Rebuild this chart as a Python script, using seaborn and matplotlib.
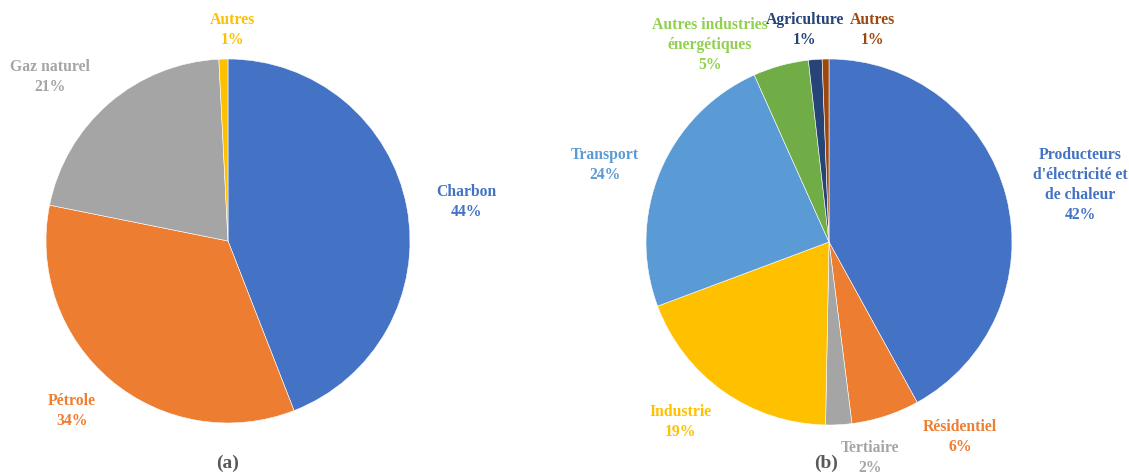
import matplotlib
matplotlib.use("Agg")
import matplotlib.pyplot as plt
import seaborn as sns

sns.set_theme(style="white")
plt.rcParams['font.family'] = ['Liberation Serif', 'DejaVu Serif']

# ---- data ----
cats_a = ["Charbon", "Pétrole", "Gaz naturel", "Autres"]
vals_a = [44, 34, 21, 0.8]
pct_a = ["44%", "34%", "21%", "1%"]
cols_a = ["#4472C4", "#ED7D31", "#A5A5A5", "#FFC000"]
txtcol_a = ["#4472C4", "#ED7D31", "#A5A5A5", "#FFC000"]

cats_b = ["Producteurs\nd'électricité et\nde chaleur", "Résidentiel", "Tertiaire", "Industrie",
          "Transport", "Autres industries\nénergétiques", "Agriculture", "Autres"]
vals_b = [42, 6, 2.3, 19, 24, 4.9, 1.2, 0.6]
pct_b = ["42%", "6%", "2%", "19%", "24%", "5%", "1%", "1%"]
cols_b = ["#4472C4", "#ED7D31", "#A5A5A5", "#FFC000", "#5B9BD5", "#70AD47", "#264478", "#9E480E"]
txtcol_b = ["#4472C4", "#ED7D31", "#A5A5A5", "#FFC000", "#5B9BD5", "#92D050", "#264478", "#9E480E"]

# ---- layout (label positions in pie units) ----
pos_a = [(1.308, 0.214), (-0.857, -0.934), (-0.978, 0.901), (0.027, 1.159)]
pos_b = [(1.372, 0.311), (0.716, -1.066), (0.224, -1.18), (-0.814, -0.984),
         (-1.224, 0.421), (-0.650, 1.077), (-0.131, 1.158), (0.240, 1.158)]

W, H = 1129, 476
fig = plt.figure(figsize=(W / 100, H / 100), dpi=100)


def draw(rect_px, center_px, r_px, vals, cols, cats, pcts, tcols, pos, caption, cap_px):
    x0, x1 = rect_px
    ax = fig.add_axes([x0 / W, 0, (x1 - x0) / W, 1])
    cx, cy = center_px
    ax.pie(vals, colors=cols, startangle=90, counterclock=False,
           wedgeprops=dict(linewidth=0.4, edgecolor="white"))
    ax.set_xlim((x0 - cx) / r_px, (x1 - cx) / r_px)
    ax.set_ylim((cy - H) / r_px, cy / r_px)
    ax.set_aspect("auto")
    ax.axis("off")
    for c, p, tc, (tx, ty) in zip(cats, pcts, tcols, pos):
        ax.text(tx, ty, f"{c}\n{p}", ha="center", va="center", color=tc,
                fontsize=11.3, fontweight="bold", linespacing=1.35)
    ax.text((cap_px[0] - cx) / r_px, (cy - cap_px[1]) / r_px, caption,
            ha="center", va="center", fontsize=14, fontweight="bold", color="#595959")


draw((0, 564), (228, 241), 182, vals_a, cols_a, cats_a, pct_a, txtcol_a, pos_a, "(a)", (228, 463))
draw((564, 1129), (829, 242), 183, vals_b, cols_b, cats_b, pct_b, txtcol_b, pos_b, "(b)", (826, 463))

fig.savefig("out.png", dpi=100, facecolor="white")
